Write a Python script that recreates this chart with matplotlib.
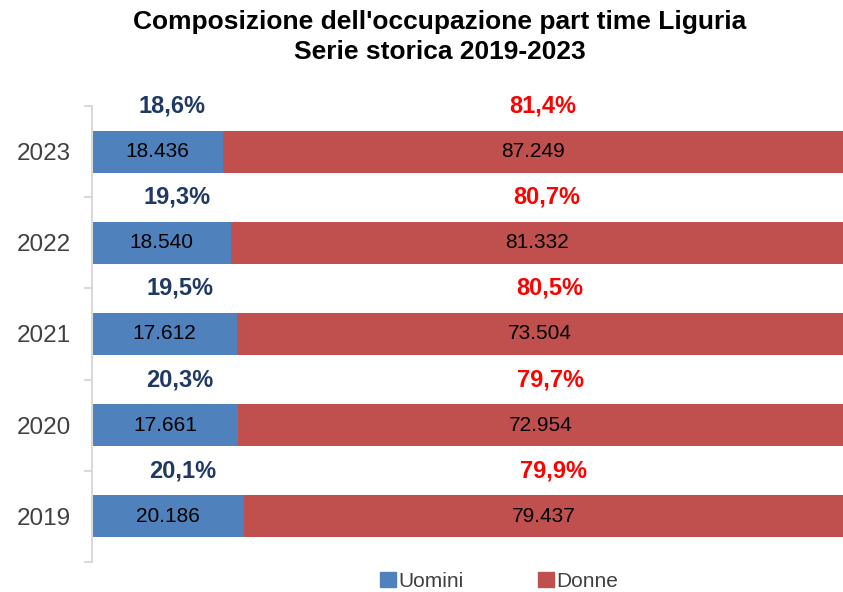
import matplotlib.pyplot as plt
import matplotlib.patches as mpatches
import numpy as np

plt.rcParams['font.family'] = ['Liberation Sans', 'DejaVu Sans']

anni = ['2019', '2020', '2021', '2022', '2023']
uomini = [20.186, 17.661, 17.612, 18.540, 18.436]
donne = [79.437, 72.954, 73.504, 81.332, 87.249]
uomini_lbl = ['20.186', '17.661', '17.612', '18.540', '18.436']
donne_lbl = ['79.437', '72.954', '73.504', '81.332', '87.249']
pct_uomini = ['20,1%', '20,3%', '19,5%', '19,3%', '18,6%']
pct_donne = ['79,9%', '79,7%', '80,5%', '80,7%', '81,4%']

blu = '#4F81BD'
rosso = '#C0504D'

u = np.array(uomini)
d = np.array(donne)
tot = u + d
fu = u / tot
fd = d / tot
y = np.arange(len(anni))

fig = plt.figure(figsize=(8.43, 5.92), dpi=100)
ax = fig.add_axes([0.1091, 0.0507, 0.8909, 0.7703])

ax.barh(y, fu, height=0.46, color=blu, label='Uomini')
ax.barh(y, fd, left=fu, height=0.46, color=rosso, label='Donne')

for i in range(len(anni)):
    ax.text(fu[i] / 2, y[i], uomini_lbl[i], ha='center', va='center', fontsize=15, color='black')
    ax.text(fu[i] + fd[i] / 2, y[i], donne_lbl[i], ha='center', va='center', fontsize=15, color='black')
    ax.text(fu[i] / 2 + 0.02, y[i] + 0.5, pct_uomini[i], ha='center', va='center',
            fontsize=17, fontweight='bold', color='#1F3864', clip_on=False)
    ax.text(fu[i] + fd[i] / 2 + 0.013, y[i] + 0.5, pct_donne[i], ha='center', va='center',
            fontsize=17, fontweight='bold', color='#FF0000', clip_on=False)

ax.set_xlim(0, 1)
ax.set_ylim(-0.5, len(anni) - 0.5)
ax.set_yticks(y)
ax.set_yticklabels(anni, fontsize=17.5, color='#404040')
ax.set_yticks(np.arange(-0.5, len(anni)), minor=True)
ax.tick_params(axis='y', which='major', length=0, pad=15)
ax.tick_params(axis='y', which='minor', length=6, width=1.5, color='#D9D9D9')
ax.xaxis.set_visible(False)
for s in ['top', 'right', 'bottom']:
    ax.spines[s].set_visible(False)
ax.spines['left'].set_color('#D9D9D9')
ax.spines['left'].set_linewidth(1.5)

fig.text(0.522, 0.9628, "Composizione dell'occupazione part time Liguria",
         ha='center', va='center', fontsize=19, fontweight='bold')
fig.text(0.522, 0.9122, "Serie storica 2019-2023",
         ha='center', va='center', fontsize=19, fontweight='bold')

handles = [mpatches.Patch(color=blu, label='Uomini'), mpatches.Patch(color=rosso, label='Donne')]
fig.legend(handles=handles, loc='center', bbox_to_anchor=(0.592, 0.018), ncol=2, frameon=False,
           fontsize=15, handlelength=0.75, handleheight=0.75, handletextpad=0.1,
           columnspacing=3.6, labelcolor='#404040', borderpad=0)

fig.savefig('out.png', dpi=100)
